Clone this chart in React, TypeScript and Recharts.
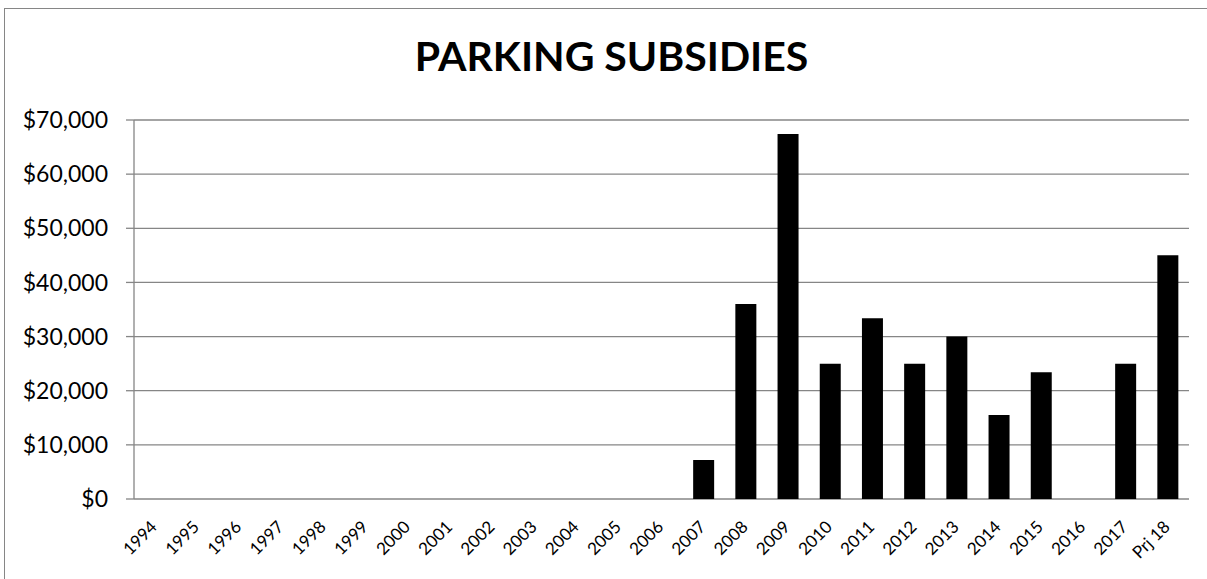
import React from "react";
import { BarChart, Bar, XAxis, YAxis, CartesianGrid } from "recharts";

const categories = ["1994","1995","1996","1997","1998","1999","2000","2001","2002","2003","2004","2005","2006","2007","2008","2009","2010","2011","2012","2013","2014","2015","2016","2017","Prj 18"];
const subsidies = [0,0,0,0,0,0,0,0,0,0,0,0,0,7200,36000,67400,25000,33400,25000,30000,15500,23400,0,25000,45000];
const yTicks = [0,10000,20000,30000,40000,50000,60000,70000];
const title = "PARKING SUBSIDIES";

const data = categories.map((c, i) => ({ year: c, value: subsidies[i] }));
const boundaryTicks = categories.map((_, i) => i).concat([categories.length]);

const FONT = "Lato, 'Open Sans', sans-serif";
const GRAY = "#868686";

const fmt = (v: number) => "$" + v.toLocaleString("en-US");

function XTick(props: any) {
  const { x, y, payload } = props;
  const tx = Number(x) + 3;
  const ty = Number(y) + 29;
  return (
    <g transform={`translate(${tx},${ty})`}>
      <text x={0} y={0} textAnchor="end" transform="rotate(-45)" style={{ fontFamily: FONT, fontSize: "17px" }} fill="#000">
        {payload.value}
      </text>
    </g>
  );
}

export default function App() {
  return (
    <div style={{ position: "fixed", left: 0, top: 0, width: 1207, height: 579, overflow: "hidden", background: "#fff" }}>
      <div style={{ position: "absolute", left: 4, top: 8, width: 1240, height: 620, borderLeft: `1.5px solid ${GRAY}`, borderTop: `1.5px solid ${GRAY}`, boxSizing: "border-box" }} />
      <div style={{ position: "absolute", left: 0, top: 35, width: 1207, textAlign: "center", fontFamily: FONT, fontWeight: 700, fontSize: 41, lineHeight: "41px", color: "#000" }}>
        <span style={{ position: "relative", left: 8 }}>{title}</span>
      </div>
      <div style={{ position: "absolute", left: 0, top: 0 }}>
        <BarChart width={1207} height={579} data={data} margin={{ top: 120, right: 18, bottom: 0, left: 0 }} barCategoryGap="25%">
          <CartesianGrid horizontal vertical={false} stroke={GRAY} strokeWidth={1.3} />
          <XAxis xAxisId="ticks" type="number" domain={[0, categories.length]} ticks={boundaryTicks} allowDataOverflow height={0} tick={false} tickSize={7} tickLine={{ stroke: GRAY, strokeWidth: 1.3 }} axisLine={{ stroke: GRAY, strokeWidth: 1.3 }} />
          <XAxis xAxisId="cat" dataKey="year" type="category" interval={0} height={80} tickLine={false} axisLine={false} tickSize={0} tickMargin={0} tick={XTick} />
          <YAxis width={134} domain={[0, 70000]} ticks={yTicks} tickFormatter={fmt} tickSize={8} tickMargin={18} tickLine={{ stroke: GRAY, strokeWidth: 1.3 }} axisLine={{ stroke: GRAY, strokeWidth: 1.3 }} tick={{ fontFamily: FONT, fontSize: 23, fill: "#000" }} />
          <Bar xAxisId="cat" dataKey="value" fill="#000" isAnimationActive={false} />
        </BarChart>
      </div>
    </div>
  );
}
